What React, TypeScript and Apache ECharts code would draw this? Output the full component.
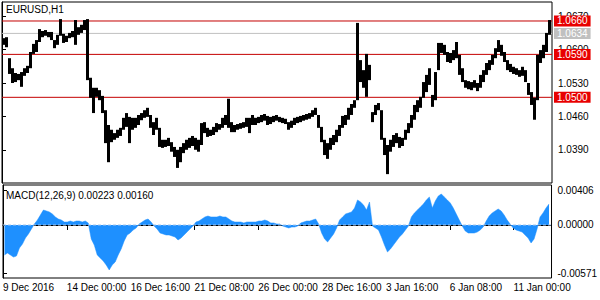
import React, { useEffect, useRef } from "react";
import * as echarts from "echarts";

const SYMBOL_TITLE = "EURUSD,H1";
const MACD_TITLE = "MACD(12,26,9) 0.00223 0.00160";
const HOURS_PER_SAMPLE = 3;
const TOTAL_HOURS = 550;
const LABEL_EVERY_HOURS = 64;
const timeLabels = [
  "9 Dec 2016",
  "14 Dec 00:00",
  "16 Dec 16:00",
  "21 Dec 08:00",
  "26 Dec 00:00",
  "28 Dec 16:00",
  "3 Jan 16:00",
  "6 Jan 08:00",
  "11 Jan 00:00",
];
const priceTicks = [1.039, 1.046, 1.053, 1.06, 1.067];
const macdTicks = [-0.00571, 0, 0.00406];
const redLevels = [1.066, 1.059, 1.05];
const currentPrice = 1.0634;
const priceMin = 1.03204;
const priceMax = 1.06998;
const macdMin = -0.00627;
const macdMax = 0.00473;

// each sample = 3 hourly bars (high / low)
const priceHigh = [
  1.0624, 1.0626, 1.0582, 1.0561, 1.0551, 1.0549, 1.0553, 1.0561, 1.0566, 1.0595,
  1.0612, 1.062, 1.0643, 1.0639, 1.0641, 1.0637, 1.0637, 1.062, 1.0631, 1.0664,
  1.0633, 1.0629, 1.0635, 1.0639, 1.0662, 1.0647, 1.0652, 1.0662, 1.0664, 1.0541,
  1.052, 1.052, 1.0515, 1.0503, 1.0473, 1.0442, 1.0432, 1.0425, 1.0432, 1.0436,
  1.0457, 1.0467, 1.0459, 1.0457, 1.0457, 1.0463, 1.0467, 1.0473, 1.0478, 1.0463,
  1.0448, 1.0457, 1.0436, 1.0411, 1.0411, 1.0415, 1.0406, 1.0396, 1.039, 1.0396,
  1.0404, 1.0411, 1.0415, 1.0419, 1.0415, 1.0411, 1.0446, 1.0448, 1.0436, 1.0432,
  1.0438, 1.0446, 1.0444, 1.0457, 1.0463, 1.0497, 1.0448, 1.0442, 1.0444, 1.0446,
  1.0448, 1.0457, 1.0457, 1.0463, 1.0457, 1.0459, 1.0463, 1.0465, 1.0461, 1.0459,
  1.0461, 1.0463, 1.0459, 1.0457, 1.0455, 1.0448, 1.0451, 1.0457, 1.0459, 1.0461,
  1.0463, 1.0465, 1.0467, 1.0473, 1.0478, 1.0463, 1.0438, 1.0411, 1.0404, 1.0415,
  1.0421, 1.0432, 1.0442, 1.0461, 1.0463, 1.0478, 1.0486, 1.0494, 1.0656, 1.0578,
  1.0557, 1.0591, 1.0568, 1.0469, 1.0484, 1.0488, 1.0473, 1.0415, 1.04, 1.0411,
  1.0421, 1.0425, 1.0417, 1.0415, 1.0432, 1.0446, 1.0463, 1.0484, 1.0494, 1.0501,
  1.0532, 1.0547, 1.0561, 1.0505, 1.0553, 1.0614, 1.0614, 1.061, 1.0595, 1.0593,
  1.0599, 1.0616, 1.0589, 1.0561, 1.0536, 1.0534, 1.0532, 1.0536, 1.053, 1.0547,
  1.0557, 1.0572, 1.0578, 1.0589, 1.0603, 1.062, 1.061, 1.0595, 1.0578, 1.057,
  1.0564, 1.0561, 1.0557, 1.0564, 1.0557, 1.053, 1.0511, 1.0499, 1.0589, 1.0599,
  1.061, 1.0635, 1.0662,
];
const priceLow = [
  1.061, 1.0605, 1.0549, 1.053, 1.0532, 1.0536, 1.0522, 1.0545, 1.0551, 1.0561,
  1.0591, 1.0595, 1.0616, 1.0626, 1.0629, 1.0626, 1.062, 1.0603, 1.061, 1.0629,
  1.0614, 1.0616, 1.0624, 1.0626, 1.061, 1.0631, 1.0635, 1.0641, 1.0536, 1.0499,
  1.0467, 1.0501, 1.0494, 1.0467, 1.0404, 1.0364, 1.0406, 1.0411, 1.0415, 1.0419,
  1.0432, 1.0438, 1.0404, 1.0432, 1.0436, 1.0442, 1.0452, 1.0457, 1.0459, 1.0436,
  1.0421, 1.0432, 1.0396, 1.0394, 1.0396, 1.0398, 1.0386, 1.0375, 1.0352, 1.0364,
  1.0383, 1.039, 1.0394, 1.0398, 1.039, 1.0386, 1.04, 1.0425, 1.0417, 1.0419,
  1.0421, 1.0427, 1.0432, 1.0436, 1.0442, 1.0436, 1.0427, 1.0427, 1.0432, 1.0434,
  1.0436, 1.0438, 1.0425, 1.0442, 1.0442, 1.0446, 1.0448, 1.0451, 1.0442, 1.0444,
  1.0448, 1.0451, 1.0448, 1.0446, 1.0444, 1.0432, 1.0436, 1.0442, 1.0446, 1.0448,
  1.0451, 1.0453, 1.0455, 1.0459, 1.0463, 1.0436, 1.0406, 1.0379, 1.0371, 1.039,
  1.04, 1.0406, 1.0419, 1.0436, 1.0442, 1.0453, 1.0463, 1.0478, 1.0494, 1.0532,
  1.052, 1.0501, 1.0536, 1.0448, 1.0463, 1.0473, 1.0411, 1.0379, 1.0339, 1.0386,
  1.0396, 1.0404, 1.0394, 1.0398, 1.0411, 1.0425, 1.0436, 1.0453, 1.0469, 1.0478,
  1.0499, 1.0511, 1.0526, 1.048, 1.0494, 1.0557, 1.0593, 1.0589, 1.0574, 1.0572,
  1.0578, 1.0582, 1.0547, 1.0532, 1.052, 1.0517, 1.0515, 1.052, 1.0513, 1.052,
  1.0532, 1.0547, 1.0557, 1.0568, 1.0582, 1.0595, 1.0587, 1.0574, 1.0557, 1.0553,
  1.0549, 1.0547, 1.0543, 1.0545, 1.0532, 1.0505, 1.0484, 1.0453, 1.0494, 1.0572,
  1.0582, 1.0595, 1.0631,
];
const macdHist = [
  -0.00355, -0.00331, -0.00355, -0.00379, -0.00367, -0.00272, -0.00225, -0.00154, -0.00106, -0.00047,
  0.00012, 0.00059, 0.00118, 0.00177, 0.00166, 0.00154, 0.0013, 0.00095, 0.00071, 0.00059,
  0.00035, 0.00035, 0.00047, 0.00035, 0.00047, 0.00047, 0.00035, 0.00047, 0.00024, -0.00166,
  -0.00237, -0.00355, -0.0039, -0.00426, -0.00473, -0.00532, -0.00473, -0.00438, -0.00355, -0.00284,
  -0.00189, -0.00118, -0.00095, -0.00059, -0.00035, 0.00012, 0.00035, 0.00059, 0.00071, 0.00035,
  -0.00012, -0.00047, -0.00095, -0.00106, -0.00118, -0.00118, -0.0013, -0.00142, -0.00177, -0.00154,
  -0.00118, -0.00083, -0.00047, -0.00012, 0.00035, 0.00047, 0.00071, 0.00095, 0.00106, 0.00095,
  0.00095, 0.00095, 0.00106, 0.00095, 0.00095, 0.00071, 0.00047, 0.00035, 0.00035, 0.00035,
  0.00024, 0.00035, 0.00035, 0.00035, 0.00035, 0.00047, 0.00047, 0.00059, 0.00047, 0.00024,
  0.00024, 0.00012, 0.00012, -0.00012, -0.00024, -0.00035, -0.00024, -0.00024, -0.00012, 0.00024,
  0.00035, 0.00047, 0.00047, 0.00059, 0.00071, 0.00012, -0.00095, -0.00166, -0.00201, -0.00154,
  -0.00106, -0.00035, 0.00059, 0.00095, 0.0013, 0.00142, 0.00154, 0.00201, 0.00296, 0.00272,
  0.00237, 0.00177, 0.00272, -0.00012, -0.00035, -0.00059, -0.00142, -0.00237, -0.00319, -0.00284,
  -0.00237, -0.00189, -0.00142, -0.00106, -0.00059, -0.00012, 0.00095, 0.00142, 0.00177, 0.00213,
  0.00248, 0.00296, 0.00331, 0.00201, 0.00284, 0.00343, 0.00367, 0.00331, 0.00296, 0.0026,
  0.00201, 0.0013, 0.00059, -0.00012, -0.00071, -0.00095, -0.00095, -0.00095, -0.00083, -0.00059,
  -0.00024, 0.00047, 0.00106, 0.00142, 0.00166, 0.00189, 0.00166, 0.00118, 0.00059, 0.00012,
  -0.00035, -0.00059, -0.00071, -0.00083, -0.00118, -0.00154, -0.00213, -0.00166, -0.00047, 0.00095,
  0.00142, 0.00201, 0.00248,
];

const FONT = "Liberation Sans";
const FS = 10;

export default function App() {
  const ref = useRef<HTMLDivElement>(null);
  useEffect(() => {
    if (!ref.current) return;
    const chart = echarts.init(ref.current, undefined, { renderer: "svg" });
    const barData = priceHigh.map((h, i) => [i * HOURS_PER_SAMPLE, priceLow[i], h]);
    const histData = macdHist.map((v, i) => [i * HOURS_PER_SAMPLE + HOURS_PER_SAMPLE / 2, v]);
    const labelValues = timeLabels.map((_, i) => i * LABEL_EVERY_HOURS);

    const levelSeries = (v: number, lineColor: string, bg: string) => ({
      type: "line",
      xAxisIndex: 0,
      yAxisIndex: 0,
      data: [
        [0, v],
        [TOTAL_HOURS, v],
      ],
      symbol: "none",
      silent: true,
      z: 1,
      lineStyle: { color: lineColor, width: 1 },
      endLabel: {
        show: true,
        formatter: () => v.toFixed(4),
        color: "#ffffff",
        backgroundColor: bg,
        fontFamily: FONT,
        fontSize: FS,
        padding: [1, 3, 0, 3],
        distance: 2,
      },
    });

    chart.setOption({
      animation: false,
      backgroundColor: "#ffffff",
      textStyle: { fontFamily: FONT, fontSize: FS, color: "#000" },
      grid: [
        { left: 2, top: 2, width: 550, height: 181, show: true, borderColor: "#000", borderWidth: 1, backgroundColor: "transparent" },
        { left: 2, top: 185, width: 550, height: 93, show: true, borderColor: "#000", borderWidth: 1, backgroundColor: "transparent" },
      ],
      xAxis: [
        { type: "value", gridIndex: 0, min: 0, max: TOTAL_HOURS, show: false },
        {
          type: "value",
          gridIndex: 1,
          min: 0,
          max: TOTAL_HOURS,
          splitLine: { show: false },
          axisLine: { show: true, lineStyle: { color: "#000" } },
          axisTick: { show: true, length: 5, inside: false, customValues: labelValues, lineStyle: { color: "#000" } },
          axisLabel: {
            show: true,
            customValues: labelValues,
            formatter: (v: number) => timeLabels[Math.round(v / LABEL_EVERY_HOURS)] ?? "",
            align: "left",
            margin: 4,
            color: "#000",
            fontFamily: FONT,
            fontSize: FS,
          },
        },
      ],
      yAxis: [
        {
          type: "value",
          gridIndex: 0,
          position: "right",
          min: priceMin,
          max: priceMax,
          splitLine: { show: false },
          axisLine: { show: true, lineStyle: { color: "#000" } },
          axisTick: { show: true, length: 4, customValues: priceTicks, lineStyle: { color: "#000" } },
          axisLabel: {
            show: true,
            customValues: priceTicks,
            formatter: (v: number) => v.toFixed(4),
            margin: 6,
            color: "#000",
            fontFamily: FONT,
            fontSize: FS,
          },
        },
        {
          type: "value",
          gridIndex: 1,
          position: "right",
          min: macdMin,
          max: macdMax,
          splitLine: { show: false },
          axisLine: { show: true, lineStyle: { color: "#000" } },
          axisTick: { show: true, length: 4, customValues: macdTicks, lineStyle: { color: "#000" } },
          axisLabel: {
            show: true,
            customValues: macdTicks,
            formatter: (v: number) => v.toFixed(5),
            margin: 6,
            color: "#000",
            fontFamily: FONT,
            fontSize: FS,
          },
        },
      ],
      series: [
        levelSeries(currentPrice, "#c0c0c0", "#c0c0c0"),
        ...redLevels.map((v) => levelSeries(v, "#c40000", "#e80000")),
        {
          type: "custom",
          name: "price",
          xAxisIndex: 0,
          yAxisIndex: 0,
          encode: { x: 0, y: [1, 2] },
          data: barData,
          renderItem: (_params: any, api: any) => {
            const x = api.value(0);
            const lo = api.value(1);
            const hi = api.value(2);
            const p1 = api.coord([x, hi]);
            const p2 = api.coord([x + HOURS_PER_SAMPLE, lo]);
            return {
              type: "rect",
              shape: { x: p1[0], y: p1[1], width: p2[0] - p1[0], height: Math.max(1, p2[1] - p1[1]) },
              style: { fill: "#000000" },
            };
          },
          z: 3,
        },
        {
          type: "line",
          name: "macd",
          xAxisIndex: 1,
          yAxisIndex: 1,
          data: histData,
          symbol: "none",
          lineStyle: { width: 0.5, color: "#1e90ff" },
          areaStyle: { color: "#1e90ff", opacity: 1, origin: 0 },
          z: 2,
        },
        {
          type: "line",
          name: "zero",
          xAxisIndex: 1,
          yAxisIndex: 1,
          data: [
            [0, 0],
            [TOTAL_HOURS, 0],
          ],
          symbol: "none",
          silent: true,
          z: 3,
          lineStyle: { color: "#a8c8ee", type: [3, 2], width: 1 },
        },
      ],
      graphic: [
        { type: "text", left: 6, top: 4, style: { text: SYMBOL_TITLE, fill: "#000", font: `${FS}px '${FONT}'` } },
        { type: "text", left: 6, top: 190, style: { text: MACD_TITLE, fill: "#000", font: `${FS}px '${FONT}'` } },
      ],
    });
    return () => chart.dispose();
  }, []);
  return <div ref={ref} style={{ position: "absolute", left: 0, top: 0, width: 600, height: 300 }} />;
}
